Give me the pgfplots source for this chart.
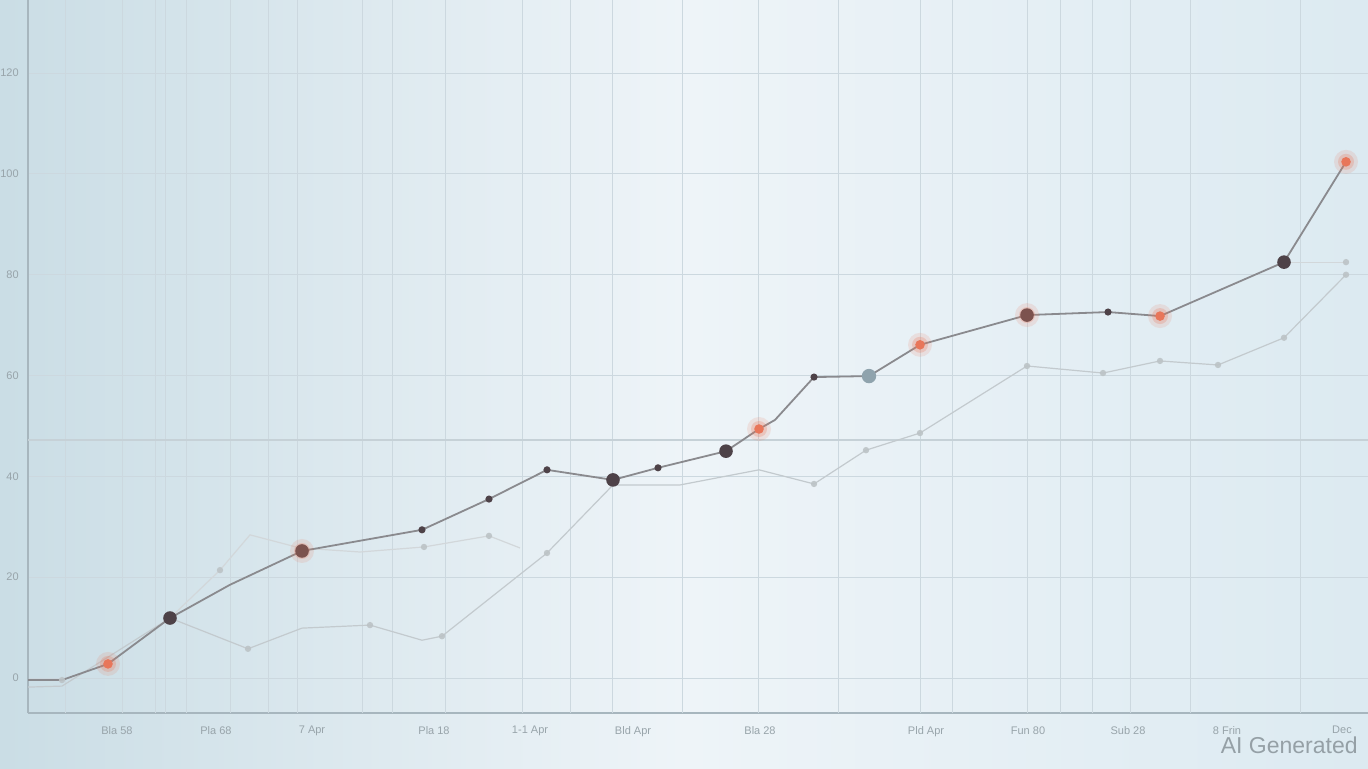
\documentclass[border=0pt]{standalone}
\usepackage{pgfplots}
\pgfplotsset{compat=1.18}
\usepackage{fontspec}
\setmainfont{Liberation Sans}

\definecolor{bgL}{HTML}{CADDE5}
\definecolor{bgM}{HTML}{EEF4F8}
\definecolor{bgR}{HTML}{DCEAF1}
\definecolor{gridc}{HTML}{CCD8DF}
\definecolor{axisc}{HTML}{A7B6BE}
\definecolor{tickc}{HTML}{98A4AA}
\definecolor{mainline}{HTML}{8A8A8E}
\definecolor{faintline}{HTML}{C3CACE}
\definecolor{darkpt}{HTML}{4E4248}
\definecolor{orangept}{HTML}{E8765A}
\definecolor{bluept}{HTML}{8FA3AD}

% x = horizontal position along the time axis, y = value
\pgfplotstableread{
x y
28 -0.4
62 -0.4
108 2.8
170 11.9
230 18.5
302 25.2
422 29.4
489 35.5
547 41.3
613 39.3
658 41.7
726 45.0
759 49.4
775 51.2
814 59.7
869 59.9
920 66.1
1027 72.0
1108 72.6
1160 71.8
1284 82.5
1346 102.4
}\seriesA

\pgfplotstableread{
x y
28 -1.8
62 -1.6
170 11.9
248 5.8
302 9.9
370 10.5
422 7.5
442 8.3
547 24.8
613 38.3
680 38.3
759 41.3
814 38.5
866 45.2
920 48.6
1027 61.9
1103 60.5
1160 62.9
1218 62.1
1284 67.5
1346 80.0
}\seriesB

\pgfplotstableread{
x y
170 11.9
220 21.4
250 28.4
300 25.8
360 25.0
424 26.0
489 28.2
520 25.8
}\seriesC

\begin{document}
\begin{tikzpicture}
\useasboundingbox (0,0) rectangle (684pt,384pt);
\shade[left color=bgL, right color=bgR, middle color=bgM] (0,0) rectangle (684pt,384pt);
\begin{axis}[
    at={(14pt,27.5pt)}, anchor=south west,
    scale only axis,
    width=670pt, height=356.5pt,
    xmin=28, xmax=1368,
    ymin=-6.94, ymax=134.5,
    axis x line=bottom, axis y line=left,
    axis line style={axisc, line width=1.2pt, -},
    tick style={draw=none},
    xtick={117,216,312,434,530,633,760,926,1028,1128,1227,1342},
    xticklabels={Bla 58, Pla 68, 7 Apr, Pla 18, 1-1 Apr, Bld Apr, Bla 28, Pld Apr, Fun 80, Sub 28, 8 Frin, Dec},
    ytick={0,20,40,60,80,100,120},
    ymajorgrids=true,
    extra x ticks={65,122,155,165,186,230,268,297,362,392,445,522,570,612,682,758,838,920,952,1027,1060,1092,1130,1190,1300},
    extra x tick labels={},
    extra x tick style={grid=major, major grid style={gridc, line width=0.5pt}},
    extra y ticks={47.2},
    extra y tick labels={},
    extra y tick style={grid=major, major grid style={gridc!92!gray, line width=0.6pt}},
    major grid style={gridc, line width=0.5pt},
    ticklabel style={font=\fontsize{5.5}{6.5}\selectfont, text=tickc},
    /pgf/number format/assume math mode=true,
    yticklabel style={xshift=1pt},
    xticklabel style={yshift=-1pt},
]
\addplot[faintline, line width=0.6pt] table {\seriesB};
\addplot[faintline!75!white, line width=0.6pt] table {\seriesC};
\addplot[faintline!75!white, line width=0.6pt] coordinates {(1284,82.5) (1346,82.5)};
\addplot[mainline, line width=0.9pt] table {\seriesA};

% faint markers on the lighter series
\addplot[only marks, mark=*, mark size=1.6pt, faintline!90!gray, draw opacity=0, fill opacity=0.9]
  coordinates {(62,-0.4) (220,21.4) (248,5.8) (370,10.5) (424,26.0) (442,8.3) (489,28.2) (547,24.8) (814,38.5) (866,45.2) (920,48.6) (1027,61.9) (1103,60.5) (1160,62.9) (1218,62.1) (1284,67.5) (1346,80.0) (1346,82.5)};

% glow halos
\addplot[only marks, mark=*, mark size=6pt, orangept, draw opacity=0, fill opacity=0.15]
  coordinates {(108,2.8) (302,25.2) (759,49.4) (920,66.1) (1027,72.0) (1160,71.8) (1346,102.4)};
\addplot[only marks, mark=*, mark size=4pt, orangept, draw opacity=0, fill opacity=0.25]
  coordinates {(108,2.8) (302,25.2) (759,49.4) (920,66.1) (1027,72.0) (1160,71.8) (1346,102.4)};

% orange markers
\addplot[only marks, mark=*, mark size=2.4pt, orangept, draw opacity=0]
  coordinates {(108,2.8) (759,49.4) (920,66.1) (1160,71.8) (1346,102.4)};

% large dark markers
\addplot[only marks, mark=*, mark size=3.4pt, darkpt, draw opacity=0]
  coordinates {(170,11.9) (613,39.3) (726,45.0) (1284,82.5)};
\addplot[only marks, mark=*, mark size=3.4pt, darkpt!70!orangept, draw opacity=0]
  coordinates {(302,25.2) (1027,72.0)};
\addplot[only marks, mark=*, mark size=3.6pt, bluept, draw opacity=0]
  coordinates {(869,59.9)};

% small dark markers
\addplot[only marks, mark=*, mark size=1.8pt, darkpt, draw opacity=0]
  coordinates {(422,29.4) (489,35.5) (547,41.3) (658,41.7) (814,59.7) (1108,72.6)};
\end{axis}
\node[anchor=east, text=tickc!90!gray, font=\fontsize{11.5}{13}\selectfont, inner sep=0pt] at (679pt,11.5pt) {AI Generated};
\end{tikzpicture}
\end{document}
